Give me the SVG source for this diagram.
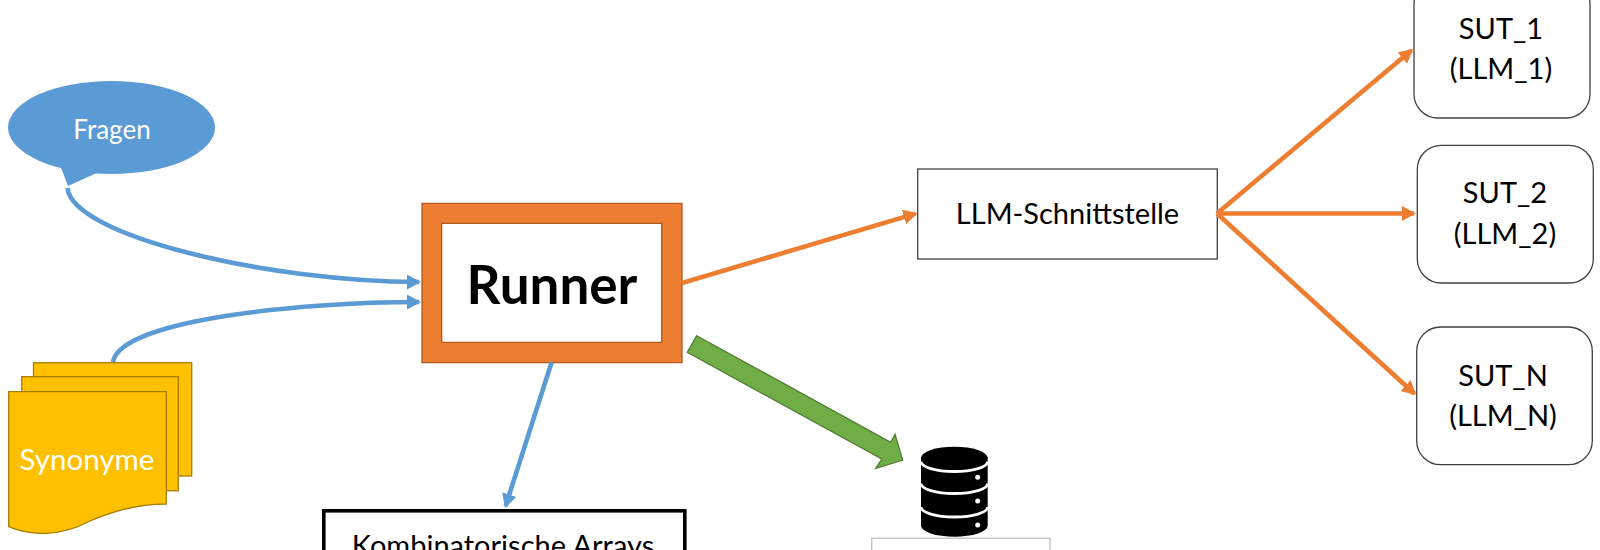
<svg xmlns="http://www.w3.org/2000/svg" width="1600" height="550" viewBox="0 0 1600 550">
<style>
text{font-family:"Lato","Carlito","Liberation Sans",sans-serif;font-size:29px;fill:#000;text-anchor:middle}
.w{fill:#fff}
.box{fill:#fff;stroke:#404040;stroke-width:1.3}
.sheet{fill:#FFC000;stroke:#A67C00;stroke-width:1.3}
.blue{fill:none;stroke:#5B9BD5;stroke-width:4.6;marker-end:url(#ab)}
.orange{fill:none;stroke:#ED7D31;stroke-width:4.6;marker-end:url(#ao)}
</style>
<defs>
<marker id="ab" markerUnits="userSpaceOnUse" viewBox="0 0 14 15" markerWidth="14" markerHeight="15" refX="12" refY="7.5" orient="auto"><path d="M0 0L14 7.5L0 15Z" fill="#5B9BD5"/></marker>
<marker id="ao" markerUnits="userSpaceOnUse" viewBox="0 0 14 15" markerWidth="14" markerHeight="15" refX="12" refY="7.5" orient="auto"><path d="M0 0L14 7.5L0 15Z" fill="#ED7D31"/></marker>
</defs>
<rect width="1600" height="550" fill="#fff"/>
<g id="fragen" fill="#5B9BD5">
<ellipse cx="111.5" cy="127.5" rx="103.5" ry="46.5"/>
<path d="M60 165L68 186L99 172Z"/>
<text class="w" x="112" y="138.5" style="font-size:26px">Fragen</text>
</g>
<g id="synonyme">
<rect class="sheet" x="33.5" y="362.7" width="158.2" height="113.3"/>
<rect class="sheet" x="21.7" y="376.7" width="156.6" height="114"/>
<path class="sheet" d="M8.7 391.7H166.3V504C140 504 115 510 90 521C60 537 30 536 8.7 526.7Z"/>
<text class="w" x="87" y="469.5" style="font-size:29.5px">Synonyme</text>
</g>
<g id="runner">
<path d="M422 203.3H682V362.7H422ZM441.7 223.3V342.3H661.7V223.3Z" fill="#ED7D31" fill-rule="evenodd" stroke="#AE5A21" stroke-width="1.3"/>
<text x="552" y="304" style="font-size:53px;font-weight:700">Runner</text>
</g>
<g id="kombinatorische-arrays">
<rect x="323.8" y="510.8" width="361" height="90" fill="#fff" stroke="#000" stroke-width="3.6"/>
<text x="503" y="556">Kombinatorische Arrays</text>
</g>
<g id="llm-schnittstelle">
<rect class="box" x="917.7" y="169" width="299.6" height="90"/>
<text x="1067.5" y="224">LLM-Schnittstelle</text>
</g>
<g id="sut-1">
<rect class="box" x="1414" y="-20" width="176" height="138" rx="24"/>
<text x="1501" y="39">SUT_1</text>
<text x="1501" y="79">(LLM_1)</text>
</g>
<g id="sut-2">
<rect class="box" x="1417.3" y="145.3" width="176" height="137.7" rx="24"/>
<text x="1505" y="203.3">SUT_2</text>
<text x="1505" y="243.6">(LLM_2)</text>
</g>
<g id="sut-n">
<rect class="box" x="1416.7" y="327" width="175.6" height="137.7" rx="24"/>
<text x="1503" y="385.7">SUT_N</text>
<text x="1503" y="425.7">(LLM_N)</text>
</g>
<g id="datenbank">
<path d="M921 458A33.3 11.3 0 0 1 987.7 458V525.4A33.3 11.3 0 0 1 921 525.4Z" fill="#000"/>
<g fill="none" stroke="#fff" stroke-width="2.8">
<path d="M921 461.5A33.3 10 0 0 0 987.7 461.5"/>
<path d="M921 483.5A33.3 10 0 0 0 987.7 483.5"/>
<path d="M921 507A33.3 10 0 0 0 987.7 507"/>
</g>
<g fill="#fff"><circle cx="977.7" cy="477.3" r="2.5"/><circle cx="977.7" cy="501" r="2.5"/><circle cx="977.7" cy="525" r="2.5"/></g>
<rect x="871.7" y="538.3" width="178.3" height="60" fill="#fff" stroke="#BFBFBF" stroke-width="1.3"/>
</g>
<g id="connectors">
<path class="blue" d="M67.5 188C72 236 270 282 419 282"/>
<path class="blue" d="M113 362C120 320 300 302 419 302"/>
<path class="blue" d="M551.7 362L505.6 506"/>
<path class="orange" d="M682 283L915.6 213.6"/>
<path class="orange" d="M1217 213.5L1411.5 50.3"/>
<path class="orange" d="M1217 213.5L1414 213.5"/>
<path class="orange" d="M1217 213.5L1414.5 393.7"/>
<path d="M696.7 335.7L890.7 442.3L895 434.3L902.7 460L875.7 468.3L881.7 459L687.3 352.3Z" fill="#70AD47" stroke="#507E32" stroke-width="1.3"/>
</g>
</svg>
